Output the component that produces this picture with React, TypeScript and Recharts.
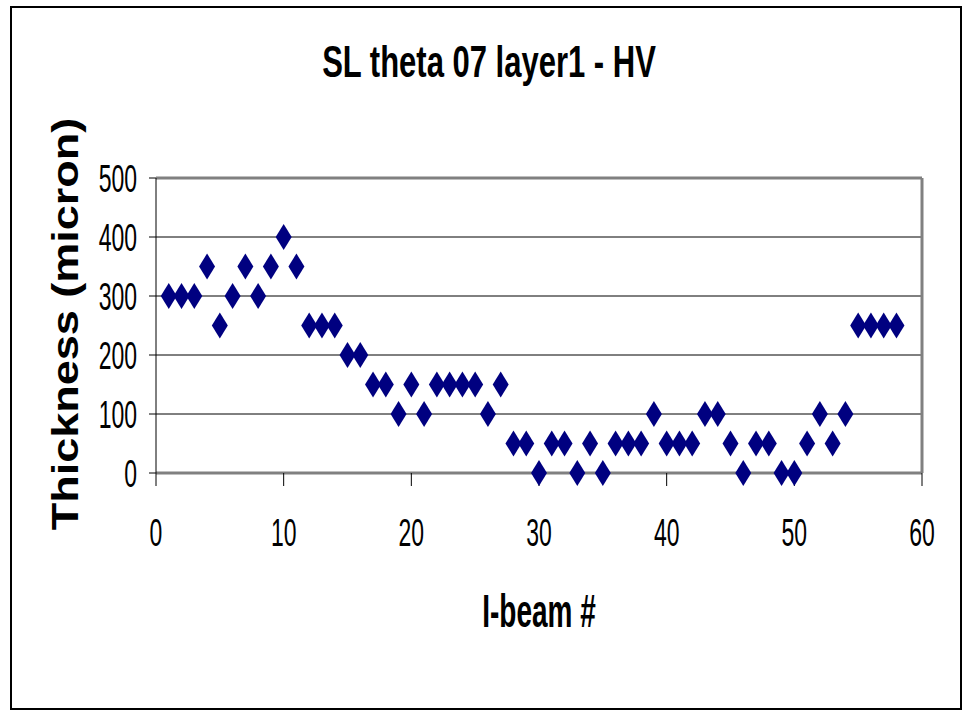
import React from 'react';
import { ScatterChart, Scatter, XAxis, YAxis, CartesianGrid, ReferenceLine } from 'recharts';

const beams: number[] = [
  1, 2, 3, 4, 5, 6, 7, 8, 9, 10, 11, 12, 13, 14, 15, 16, 17, 18, 19, 20,
  21, 22, 23, 24, 25, 26, 27, 28, 29, 30, 31, 32, 33, 34, 35, 36, 37, 38, 39, 40,
  41, 42, 43, 44, 45, 46, 47, 48, 49, 50, 51, 52, 53, 54, 55, 56, 57, 58,
];
const thickness: number[] = [
  300, 300, 300, 350, 250, 300, 350, 300, 350, 400, 350, 250, 250, 250, 200, 200, 150, 150, 100, 150,
  100, 150, 150, 150, 150, 100, 150, 50, 50, 0, 50, 50, 0, 50, 0, 50, 50, 50, 100, 50,
  50, 50, 100, 100, 50, 0, 50, 50, 0, 0, 50, 100, 50, 100, 250, 250, 250, 250,
];
const xTicks = [0, 10, 20, 30, 40, 50, 60];
const yTicks = [0, 100, 200, 300, 400, 500];

const data = beams.map((b, i) => ({ x: b, y: thickness[i] }));

const FONT = '"Liberation Sans", Arial, sans-serif';
const NAVY = '#000080';

const Diamond = (props: any) => {
  const { cx, cy } = props;
  if (cx == null || cy == null) return null;
  const w = 8;
  const h = 13;
  return <polygon points={`${cx},${cy - h} ${cx + w},${cy} ${cx},${cy + h} ${cx - w},${cy}`} fill={NAVY} />;
};

const XTick = (props: any) => {
  const { x, payload } = props;
  return (
    <g transform={`translate(${x},546) scale(1,1.7)`}>
      <text x={0} y={0} textAnchor="middle" fontFamily={FONT} fontSize={23} fill="#000">
        {payload.value}
      </text>
    </g>
  );
};

const YTick = (props: any) => {
  const { y, payload } = props;
  return (
    <g transform={`translate(137,${y + 14}) scale(1,1.7)`}>
      <text x={0} y={0} textAnchor="end" fontFamily={FONT} fontSize={23} fill="#000">
        {payload.value}
      </text>
    </g>
  );
};

export default function App() {
  return (
    <div style={{ position: 'absolute', left: 0, top: 0, width: 963, height: 710, background: '#fff' }}>
      <ScatterChart width={963} height={710} margin={{ top: 178, right: 41, bottom: 0, left: 0 }}>
        <CartesianGrid horizontal vertical={false} stroke="#000" strokeWidth={1} />
        <ReferenceLine y={500} stroke="#808080" strokeWidth={3} />
        <ReferenceLine x={60} stroke="#808080" strokeWidth={3} />
        <XAxis
          type="number"
          dataKey="x"
          domain={[0, 60]}
          ticks={xTicks}
          height={237}
          tickSize={13}
          axisLine={{ stroke: '#808080', strokeWidth: 3 }}
          tickLine={{ stroke: '#000' }}
          tick={<XTick />}
          interval={0}
        />
        <YAxis
          type="number"
          dataKey="y"
          domain={[0, 500]}
          ticks={yTicks}
          width={156}
          tickSize={7}
          axisLine={{ stroke: '#000', strokeWidth: 1 }}
          tickLine={{ stroke: '#000' }}
          tick={<YTick />}
          interval={0}
        />
        <Scatter data={data} fill={NAVY} shape={<Diamond />} isAnimationActive={false} />
      </ScatterChart>
      <svg width={963} height={710} style={{ position: 'absolute', left: 0, top: 0, pointerEvents: 'none' }}>
        <rect x={11} y={7} width={950} height={702} fill="none" stroke="#000" strokeWidth={2} />
        <g transform="translate(489,77) scale(1,1.42)">
          <text x={0} y={0} textAnchor="middle" fontFamily={FONT} fontWeight="bold" fontSize={31} fill="#000">
            SL theta 07 layer1 - HV
          </text>
        </g>
        <g transform="translate(539,627) scale(1,1.67)">
          <text x={0} y={0} textAnchor="middle" fontFamily={FONT} fontWeight="bold" fontSize={28} fill="#000">
            I-beam #
          </text>
        </g>
        <g transform="translate(78,324) rotate(-90) scale(1,0.8)">
          <text x={0} y={0} textAnchor="middle" fontFamily={FONT} fontWeight="bold" fontSize={45} fill="#000">
            Thickness (micron)
          </text>
        </g>
      </svg>
    </div>
  );
}
